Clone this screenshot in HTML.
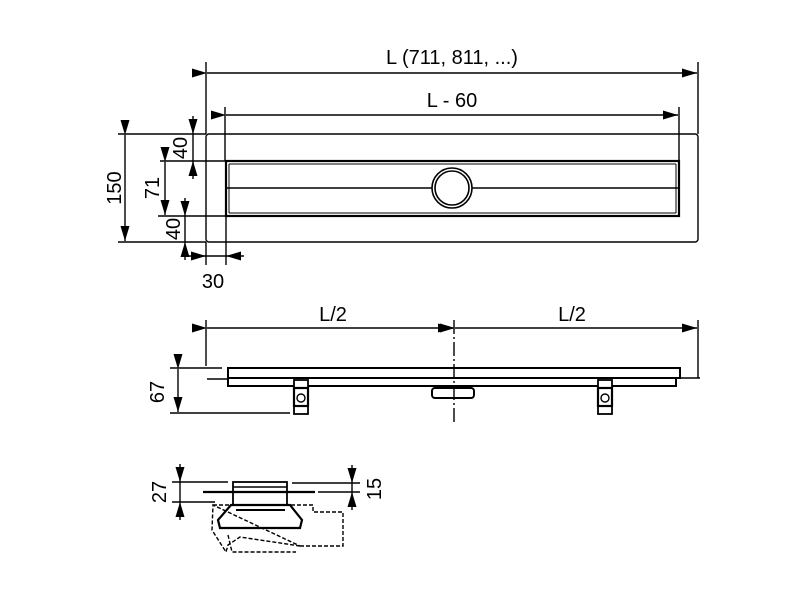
<!DOCTYPE html>
<html><head><meta charset="utf-8"><style>
html,body{margin:0;padding:0;background:#fff}
svg{display:block}
text{font-family:"Liberation Sans",sans-serif;font-size:20px;fill:#000}
</style></head><body>
<svg width="800" height="600" viewBox="0 0 800 600" xmlns="http://www.w3.org/2000/svg">
<defs>
<marker id="a" viewBox="0 0 15 9" refX="15" refY="4.5" markerWidth="15" markerHeight="9" markerUnits="userSpaceOnUse" orient="auto"><path d="M0,0L15,4.5L0,9z" fill="#000"/></marker>
</defs>
<g stroke="#000" stroke-width="1.4" fill="none">
<line x1="206" y1="62" x2="206" y2="134"/>
<line x1="698" y1="62" x2="698" y2="134"/>
<line x1="207" y1="73" x2="697" y2="73" marker-start="url(#a)" marker-end="url(#a)"/>
<line x1="225" y1="107" x2="225" y2="161"/>
<line x1="679" y1="107" x2="679" y2="161"/>
<line x1="226" y1="115" x2="678" y2="115" marker-start="url(#a)" marker-end="url(#a)"/>
<rect x="206" y="134" width="492" height="108" rx="3"/>
<rect x="226" y="161" width="453" height="55" stroke-width="2.2"/>
<line x1="229" y1="164" x2="676" y2="164" stroke-width="1"/>
<line x1="229" y1="213" x2="676" y2="213" stroke-width="1"/>
<line x1="229" y1="164" x2="229" y2="213" stroke-width="1"/>
<line x1="676" y1="164" x2="676" y2="213" stroke-width="1"/>
<line x1="226" y1="188" x2="679" y2="188"/>
<circle cx="452" cy="188" r="20" fill="#fff" stroke-width="1.6"/>
<circle cx="452" cy="188" r="17" stroke-width="1.6"/>
<line x1="118" y1="134" x2="206" y2="134"/>
<line x1="118" y1="242" x2="206" y2="242"/>
<line x1="125" y1="135" x2="125" y2="241" marker-start="url(#a)" marker-end="url(#a)"/>
<line x1="160" y1="161" x2="226" y2="161"/>
<line x1="158" y1="216" x2="226" y2="216"/>
<line x1="165" y1="162" x2="165" y2="215" marker-start="url(#a)" marker-end="url(#a)"/>
<line x1="193" y1="116" x2="193" y2="134" marker-end="url(#a)"/>
<line x1="193" y1="134" x2="193" y2="161"/>
<line x1="193" y1="179" x2="193" y2="161" marker-end="url(#a)"/>
<line x1="185" y1="198" x2="185" y2="216" marker-end="url(#a)"/>
<line x1="185" y1="216" x2="185" y2="242"/>
<line x1="185" y1="260" x2="185" y2="242" marker-end="url(#a)"/>
<line x1="206" y1="242" x2="206" y2="265"/>
<line x1="226" y1="216" x2="226" y2="265"/>
<line x1="188" y1="256" x2="206" y2="256" marker-end="url(#a)"/>
<line x1="206" y1="256" x2="226" y2="256"/>
<line x1="244" y1="256" x2="226" y2="256" marker-end="url(#a)"/>
<line x1="206" y1="320" x2="206" y2="366"/>
<line x1="698" y1="320" x2="698" y2="378"/>
<line x1="207" y1="328" x2="453" y2="328" marker-start="url(#a)" marker-end="url(#a)"/>
<line x1="455" y1="328" x2="697" y2="328" marker-start="url(#a)" marker-end="url(#a)"/>
<line x1="454" y1="320" x2="454" y2="425" stroke-dasharray="14,3,2,3"/>
<path d="M228,368 L680,368 L680,378 L228,378 Z" stroke-width="2"/>
<path d="M228,378 L228,386 L676,386 L676,378" stroke-width="2"/>
<line x1="207" y1="379" x2="228" y2="379"/>
<line x1="676" y1="378" x2="700" y2="378"/>
<rect x="294" y="380" width="14" height="34" fill="#fff" stroke-width="1.8"/>
<rect x="294" y="388" width="14" height="18" fill="#fff" stroke-width="2.2"/>
<circle cx="301" cy="398" r="4"/>
<rect x="598" y="380" width="14" height="34" fill="#fff" stroke-width="1.8"/>
<rect x="598" y="388" width="14" height="18" fill="#fff" stroke-width="2.2"/>
<circle cx="605" cy="398" r="4"/>
<rect x="432" y="388" width="42" height="10" rx="3" stroke-width="2"/>
<line x1="170" y1="368" x2="222" y2="368"/>
<line x1="170" y1="413" x2="290" y2="413"/>
<line x1="178" y1="369" x2="178" y2="412" marker-start="url(#a)" marker-end="url(#a)"/>
<line x1="180" y1="464" x2="180" y2="482" marker-end="url(#a)"/>
<line x1="180" y1="482" x2="180" y2="502"/>
<line x1="180" y1="520" x2="180" y2="502" marker-end="url(#a)"/>
<line x1="172" y1="482" x2="228" y2="482"/>
<line x1="172" y1="502" x2="215" y2="502"/>
<line x1="352" y1="465" x2="352" y2="483" marker-end="url(#a)"/>
<line x1="352" y1="483" x2="352" y2="492"/>
<line x1="352" y1="510" x2="352" y2="492" marker-end="url(#a)"/>
<line x1="292" y1="483" x2="360" y2="483"/>
<line x1="318" y1="492" x2="360" y2="492"/>
<line x1="203" y1="492" x2="315" y2="492" stroke-width="2.2"/>
<rect x="233" y="482" width="54" height="23" stroke-width="1.8"/>
<line x1="233" y1="487" x2="287" y2="487"/>
<path d="M231,505 L290,505 L302,520 L300,528 L220,528 L218,520 Z" stroke-width="2.2"/>
<line x1="236" y1="510" x2="285" y2="510" stroke-width="2"/>
<path d="M213,505 L313,505 L313,512 L343,512 L343,546 L300,546 M300,546 L240,537 L228,545 L226,552 L212,530 L213,505 Z" stroke-dasharray="4,2"/>
<path d="M228,535 L232,552 L296,552" stroke-dasharray="4,2"/>
</g>
<text x="452" y="64" text-anchor="middle">L (711, 811, ...)</text>
<text x="452" y="107" text-anchor="middle">L - 60</text>
<text x="213" y="288" text-anchor="middle">30</text>
<text x="333" y="321" text-anchor="middle">L/2</text>
<text x="572" y="321" text-anchor="middle">L/2</text>
<text transform="translate(121,188) rotate(-90)" text-anchor="middle">150</text>
<text transform="translate(159,188) rotate(-90)" text-anchor="middle">71</text>
<text transform="translate(187,148) rotate(-90)" text-anchor="middle">40</text>
<text transform="translate(180,229) rotate(-90)" text-anchor="middle">40</text>
<text transform="translate(164,392) rotate(-90)" text-anchor="middle">67</text>
<text transform="translate(166,492) rotate(-90)" text-anchor="middle">27</text>
<text transform="translate(381,489) rotate(-90)" text-anchor="middle">15</text>
</svg>
</body></html>
